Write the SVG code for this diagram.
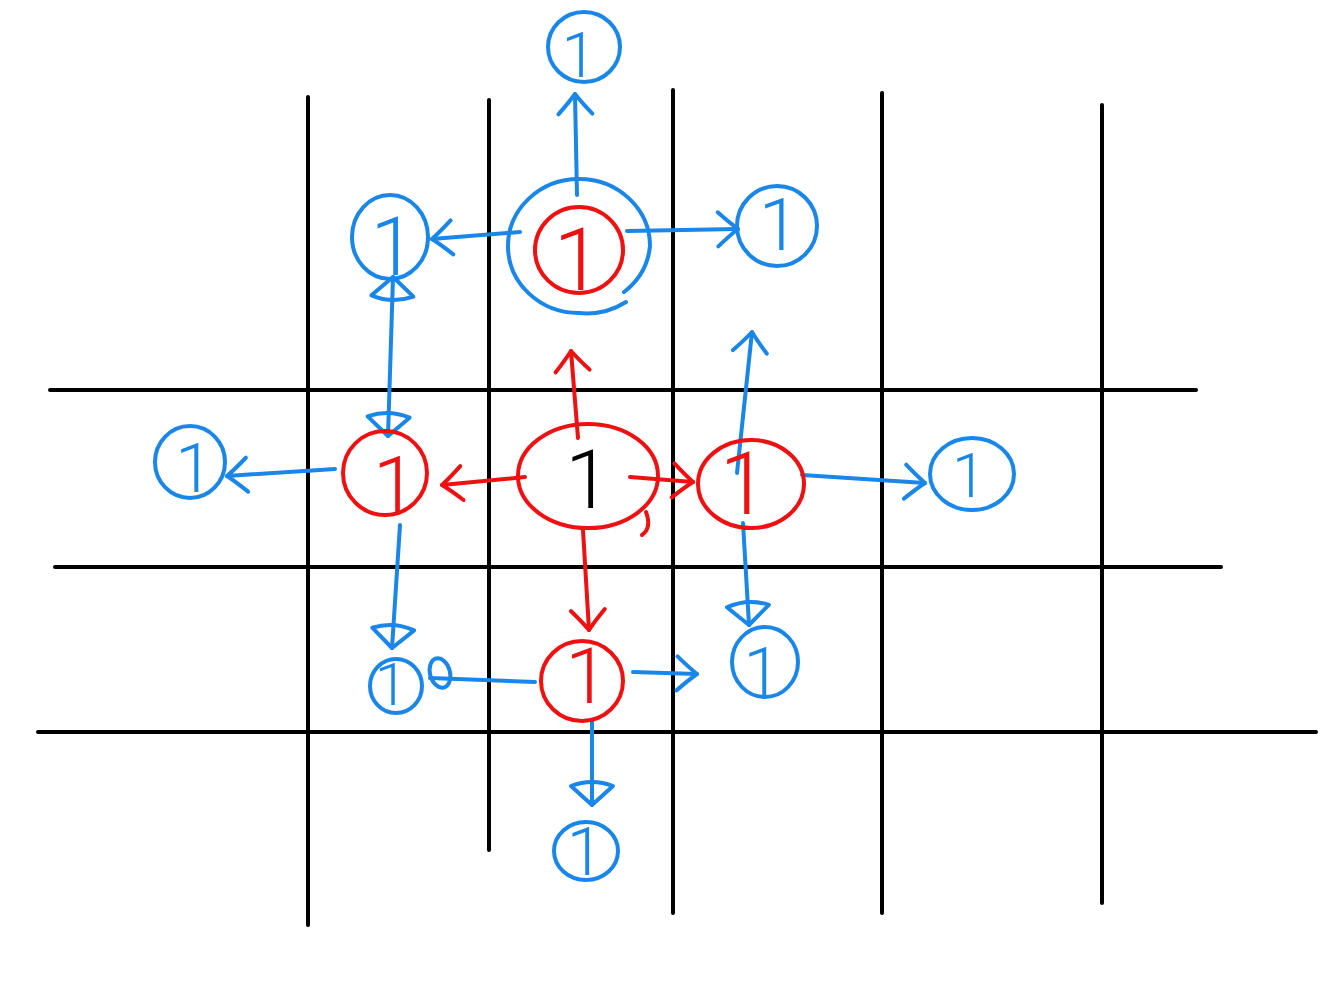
<svg xmlns="http://www.w3.org/2000/svg" width="1325" height="1000" viewBox="0 0 1325 1000">
<style>
.grid{stroke:#000;stroke-width:4;stroke-linecap:round;fill:none}
.b{stroke:#1A86E8;stroke-width:4;fill:none;stroke-linecap:round;stroke-linejoin:round}
.r{stroke:#EE1111;stroke-width:4;fill:none;stroke-linecap:round;stroke-linejoin:round}
.t{font-family:Roboto,"Liberation Sans",Arial,sans-serif;font-weight:300;text-anchor:middle}
.tb{fill:#1A86E8}
.tr{fill:#EE1111}
.tk{fill:#000}
</style>
<defs>
<marker id="chevB" markerUnits="userSpaceOnUse" markerWidth="50" markerHeight="50" refX="0" refY="0" orient="auto" style="overflow:visible">
<path d="M-20,-17 Q-8,-6 0,0 Q-8,6 -20,17" fill="none" stroke="#1A86E8" stroke-width="4" stroke-linecap="round" stroke-linejoin="round"/>
</marker>
<marker id="chevR" markerUnits="userSpaceOnUse" markerWidth="50" markerHeight="50" refX="0" refY="0" orient="auto" style="overflow:visible">
<path d="M-20,-17 Q-8,-6 0,0 Q-8,6 -20,17" fill="none" stroke="#EE1111" stroke-width="4" stroke-linecap="round" stroke-linejoin="round"/>
</marker>
<marker id="triB" markerUnits="userSpaceOnUse" markerWidth="50" markerHeight="50" refX="0" refY="0" orient="auto-start-reverse" style="overflow:visible">
<path d="M0,0 L-19,-21 Q-27,0 -19,21 Z" fill="none" stroke="#1A86E8" stroke-width="4" stroke-linecap="round" stroke-linejoin="round"/>
</marker>
</defs>
<rect width="1325" height="1000" fill="#fff"/>
<g id="grid">
<line class="grid" x1="308" y1="97" x2="308" y2="925"/>
<line class="grid" x1="489" y1="100" x2="489" y2="850"/>
<line class="grid" x1="673" y1="90" x2="673" y2="913"/>
<line class="grid" x1="882" y1="93" x2="882" y2="913"/>
<line class="grid" x1="1102" y1="105" x2="1102" y2="903"/>
<line class="grid" x1="50" y1="390" x2="1196" y2="390"/>
<line class="grid" x1="55" y1="567" x2="1221" y2="567"/>
<line class="grid" x1="38" y1="732" x2="1316" y2="732"/>
</g>
<g id="connectors">
<path class="r" d="M578,438 L571,351" marker-end="url(#chevR)"/>
<path class="r" d="M525,477 L442,485" marker-end="url(#chevR)"/>
<path class="r" d="M630,477 L693,482" marker-end="url(#chevR)"/>
<path class="r" d="M583,530 L589,630" marker-end="url(#chevR)"/>
<path class="b" d="M577,195 L575,94" marker-end="url(#chevB)"/>
<path class="b" d="M520,232 L432,239" marker-end="url(#chevB)"/>
<path class="b" d="M627,231 L738,229" marker-end="url(#chevB)"/>
<path class="b" d="M388,436 L393,277" marker-start="url(#triB)" marker-end="url(#triB)"/>
<path class="b" d="M335,469 L227,476" marker-end="url(#chevB)"/>
<path class="b" d="M400,525 L392,648" marker-end="url(#triB)"/>
<path class="b" d="M737,473 L752,332" marker-end="url(#chevB)"/>
<path class="b" d="M802,475 L925,483" marker-end="url(#chevB)"/>
<path class="b" d="M743,523 L749,625" marker-end="url(#triB)"/>
<path class="b" d="M535,682 L430,678"/>
<ellipse class="b" cx="440" cy="673" rx="10" ry="15" transform="rotate(-15 440 673)"/>
<path class="b" d="M633,672 L697,674" marker-end="url(#chevB)"/>
<path class="b" d="M592,720 L592,805" marker-end="url(#triB)"/>
</g>
<g id="n-center">
<ellipse class="r" cx="588" cy="476" rx="70" ry="52"/>
<path class="r" d="M646,512 Q652,528 642,535"/>
<text class="t tk" x="588" y="508" font-size="82">1</text>
</g>
<g id="n-top">
<path class="b" d="M624,292 A71 67 0 0 0 650,246 A71 67 0 0 0 579,179 A71 67 0 0 0 508,246 A71 67 0 0 0 579,313 A71 67 0 0 0 626,302"/>
<ellipse class="r" cx="579" cy="250" rx="44" ry="43"/>
<text class="t tr" x="578" y="290" font-size="88">1</text>
</g>
<g id="n-left">
<ellipse class="r" cx="385" cy="473" rx="42" ry="42"/>
<text class="t tr" x="395" y="513" font-size="80">1</text>
</g>
<g id="n-right">
<ellipse class="r" cx="751" cy="484" rx="53" ry="44"/>
<text class="t tr" x="744" y="514" font-size="88">1</text>
</g>
<g id="n-bottom">
<ellipse class="r" cx="582" cy="681" rx="41" ry="40"/>
<text class="t tr" x="587" y="703" font-size="78">1</text>
</g>
<g id="n-top-top">
<ellipse class="b" cx="584" cy="47" rx="36" ry="35"/>
<text class="t tb" x="579" y="77" font-size="63">1</text>
</g>
<g id="n-top-left">
<ellipse class="b" cx="390" cy="237" rx="38" ry="42"/>
<text class="t tb" x="393" y="275" font-size="81">1</text>
</g>
<g id="n-top-right">
<ellipse class="b" cx="777" cy="226" rx="40" ry="40"/>
<text class="t tb" x="779" y="250" font-size="73">1</text>
</g>
<g id="n-left-left">
<ellipse class="b" cx="190" cy="462" rx="35" ry="36"/>
<text class="t tb" x="194" y="492" font-size="68">1</text>
</g>
<g id="n-right-right">
<ellipse class="b" cx="972" cy="474" rx="42" ry="36"/>
<text class="t tb" x="969" y="497" font-size="61">1</text>
</g>
<g id="n-bottom-left">
<ellipse class="b" cx="396" cy="686" rx="26" ry="27"/>
<text class="t tb" x="391" y="705" font-size="59">1</text>
</g>
<g id="n-bottom-right">
<ellipse class="b" cx="765" cy="662" rx="33" ry="35"/>
<text class="t tb" x="762" y="695" font-size="67">1</text>
</g>
<g id="n-bottom-bottom">
<ellipse class="b" cx="586" cy="851" rx="32" ry="29"/>
<text class="t tb" x="585" y="875" font-size="66">1</text>
</g>
</svg>
